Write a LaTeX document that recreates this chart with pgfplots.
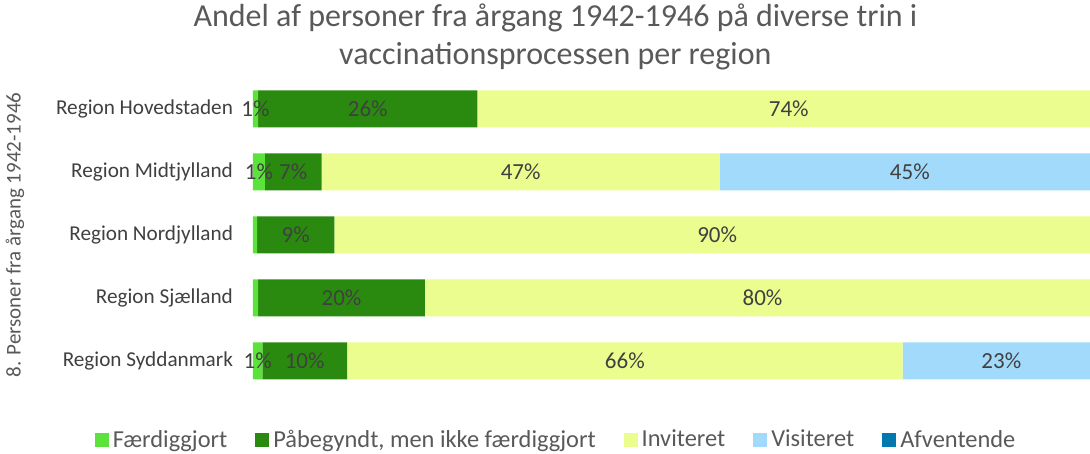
\documentclass[border=0pt]{standalone}
\usepackage{fontspec}
\setmainfont{Carlito}
\usepackage{pgfplots}
\usepackage{pgfplotstable}
\pgfplotsset{compat=1.18}

\definecolor{cFaerdig}{HTML}{5BE33B}
\definecolor{cPaabeg}{HTML}{2A8A0F}
\definecolor{cInvit}{HTML}{EBFD8E}
\definecolor{cVisit}{HTML}{A2DAFC}
\definecolor{cAfvent}{HTML}{0079B1}
\definecolor{txt}{HTML}{404040}
\definecolor{ttl}{HTML}{595959}

% segment widths in percent, and the label printed on each segment
\pgfplotstableread{
y f   p    i    v    a lf   lp    li    lv
0 0.6 25.9 73.5 0    0 1\%  26\%  74\%  {}
1 1.4 6.7  47.0 44.9 0 1\%  7\%   47\%  45\%
2 0.5 9.1  90.4 0    0 {}   9\%   90\%  {}
3 0.6 19.7 79.7 0    0 {}   20\%  80\%  {}
4 1.1 10.0 65.6 23.3 0 1\%  10\%  66\%  23\%
}\data

\pgfplotsset{
  seg/.style={fill=#1, draw=none, nodes near coords, point meta=explicit symbolic},
}

\begin{document}
\begin{tikzpicture}
\begin{axis}[
    xbar stacked,
    scale only axis,
    width=423.5pt, height=157.5pt,
    xmin=0, xmax=100,
    ymin=-0.5, ymax=4.5,
    y dir=reverse,
    bar width=18.5pt,
    axis x line=none,
    axis y line*=left,
    y axis line style={draw=none},
    major tick length=0pt,
    ytick={0,1,2,3,4},
    yticklabels={Region Hovedstaden, Region Midtjylland, Region Nordjylland, Region Sjælland, Region Syddanmark},
    yticklabel style={font=\fontsize{10.6}{13}\selectfont, text=txt, anchor=east, xshift=-6.5pt},
    ylabel={8. Personer fra årgang 1942-1946},
    every axis y label/.style={at={(rel axis cs:-0.281,0.5)}, rotate=90, anchor=center,
      font=\fontsize{10.5}{12}\selectfont, text=ttl},
    title={Andel af personer fra årgang 1942-1946 på diverse trin i\\vaccinationsprocessen per region},
    title style={at={(rel axis cs:0.357,1.09)}, anchor=center, align=center,
      font=\fontsize{16}{19}\selectfont, text=ttl},
    every node near coord/.style={anchor=center, font=\fontsize{11.5}{13}\selectfont, text=txt},
    legend columns=5,
    legend style={at={(rel axis cs:0.359,-0.151)}, anchor=center, draw=none,
      font=\fontsize{12.2}{14}\selectfont, text=ttl,
      /tikz/every even column/.append style={column sep=12pt}},
    legend image code/.code={\fill[#1] (0pt,-3.5pt) rectangle (7pt,3.5pt);},
]
\addplot[seg=cFaerdig] table[x=f, y=y, meta=lf] {\data};
\addplot[seg=cPaabeg] table[x=p, y=y, meta=lp] {\data};
\addplot[seg=cInvit] table[x=i, y=y, meta=li] {\data};
\addplot[seg=cVisit] table[x=v, y=y, meta=lv] {\data};
\addplot[fill=cAfvent, draw=none] table[x=a, y=y] {\data};
\legend{Færdiggjort, {Påbegyndt, men ikke færdiggjort}, Inviteret, Visiteret, Afventende}
\coordinate (bl) at (rel axis cs:-0.2987,-0.195);
\coordinate (tr) at (rel axis cs:0.9882,1.246);
\end{axis}
\pgfresetboundingbox
\path[use as bounding box] (bl) rectangle (tr);
\end{tikzpicture}
\end{document}
